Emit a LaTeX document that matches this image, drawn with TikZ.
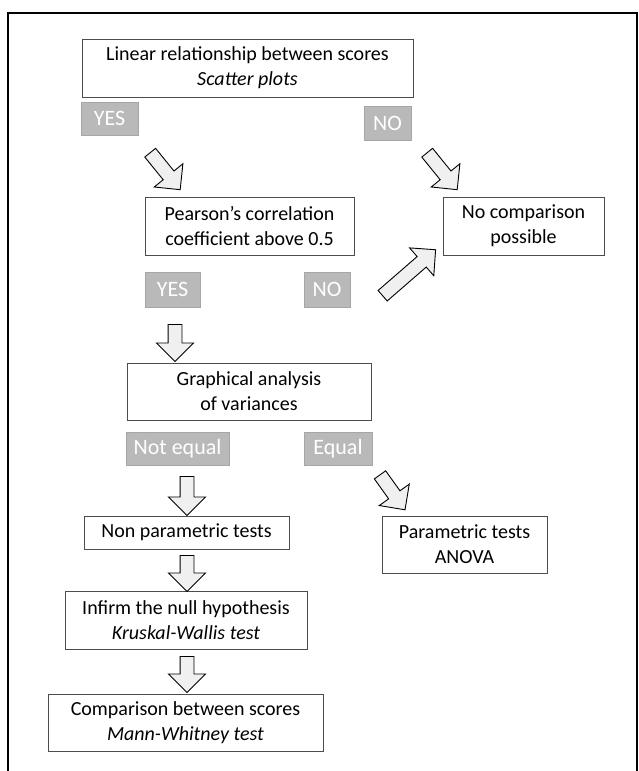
\documentclass[tikz,border=0pt]{standalone}
\usepackage{fontspec}
\setmainfont{Carlito}
\usetikzlibrary{shapes.arrows, calc}

% hollow block arrow between two named points
\newcommand{\flowarrow}[2]{%
  \path let \p1=(#1), \p2=(#2),
            \n1={atan2(\y2-\y1,\x2-\x1)}, \n2={veclen(\x2-\x1,\y2-\y1)} in
        node[blockarrow, minimum height=\n2, rotate=\n1] at ($(#1)!0.5!(#2)$) {};}

\begin{document}
\begin{tikzpicture}[x=1pt, y=-1pt,
  testbox/.style={draw=black!70, line width=0.7pt, align=center, inner sep=0pt,
                  font=\fontsize{20}{25}\selectfont},
  answer/.style={fill=gray!55, draw=gray!70, line width=0.5pt, text=white, inner sep=0pt,
                 font=\fontsize{22}{24}\selectfont},
  blockarrow/.style={single arrow, draw=black, line width=0.9pt, fill=gray!12,
                     inner sep=0pt, text height=0pt, text depth=0pt, inner ysep=6.5pt,
                     single arrow head extend=11.5pt, minimum width=36pt,
                     single arrow tip angle=90}]

\useasboundingbox (0,0) rectangle (639,771);

% ---- Frame -------------------------------------------------------------
\draw[line width=1.6pt] (8,771) -- (8,13) -- (637,13) -- (637,771);

% ---- Boxes -------------------------------------------------------------
\node[testbox, minimum width=331, minimum height=58] (lin) at (247.5,68)
  {Linear relationship between scores\\\textit{Scatter plots}};
\node[testbox, minimum width=209, minimum height=58] (pear) at (249.5,226)
  {Pearson's correlation\\coefficient above 0.5};
\node[testbox, minimum width=161, minimum height=58] (nocomp) at (523.5,226)
  {No comparison\\possible};
\node[testbox, minimum width=244, minimum height=57] (graph) at (249,391.5)
  {Graphical analysis\\of variances};
\node[testbox, minimum width=205, minimum height=33] (nonpar) at (186.5,532.5)
  {Non parametric tests};
\node[testbox, minimum width=165, minimum height=57] (par) at (464.5,544.5)
  {Parametric tests\\ANOVA};
\node[testbox, minimum width=242, minimum height=58] (infirm) at (186,620)
  {Infirm the null hypothesis\\\textit{Kruskal-Wallis test}};
\node[testbox, minimum width=275, minimum height=57] (comp) at (185.5,722.5)
  {Comparison between scores\\\textit{Mann-Whitney test}};

% ---- Answers -----------------------------------------------------------
\node[answer, minimum width=57, minimum height=33] (yes1) at (109.5,118.5) {YES};
\node[answer, minimum width=47, minimum height=34] (no1) at (387.5,123) {NO};
\node[answer, minimum width=55, minimum height=35] (yes2) at (172.5,289.5) {YES};
\node[answer, minimum width=46, minimum height=35] (no2) at (327,289.5) {NO};
\node[answer, minimum width=103, minimum height=33] (neq) at (177.5,448.5) {Not equal};
\node[answer, minimum width=68, minimum height=33] (eq) at (338,448.5) {Equal};

% ---- Block arrows ------------------------------------------------------
\coordinate (yes1s) at (148,150);  \coordinate (yes1e) at (178,187);
\coordinate (no1s)  at (425,150);  \coordinate (no1e)  at (455,187);
\coordinate (yes2s) at (175,321);  \coordinate (yes2e) at (175,358);
\coordinate (no2s)  at (380,298);  \coordinate (no2e)  at (433,252);
\coordinate (neqs)  at (187,473);  \coordinate (neqe)  at (187,512);
\coordinate (eqs)   at (378,472);  \coordinate (eqe)   at (403,507);
\coordinate (nps)   at (187,552);  \coordinate (npe)   at (187,588);
\coordinate (infs)  at (187,653);  \coordinate (infe)  at (187,689);

\flowarrow{yes1s}{yes1e}
\flowarrow{no1s}{no1e}
\flowarrow{yes2s}{yes2e}
\flowarrow{no2s}{no2e}
\flowarrow{neqs}{neqe}
\flowarrow{eqs}{eqe}
\flowarrow{nps}{npe}
\flowarrow{infs}{infe}

\end{tikzpicture}
\end{document}
